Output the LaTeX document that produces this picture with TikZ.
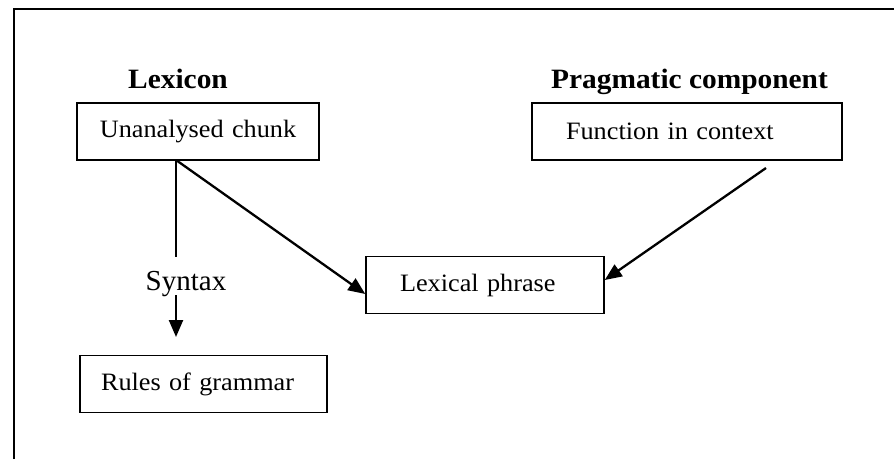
\documentclass[tikz,border=0pt]{standalone}
\usepackage{fontspec}
\setmainfont{Liberation Serif}
\newfontfamily\boxfont{Liberation Serif}[FakeStretch=1.05]
\usetikzlibrary{arrows.meta}

\begin{document}
\begin{tikzpicture}[x=1pt,y=-1pt,
  box node/.style={draw,line width=1.5pt,minimum height=57pt,align=left,font=\boxfont\fontsize{25}{30}\selectfont},
  head node/.style={anchor=base,inner sep=0pt,font=\boxfont\bfseries\fontsize{28}{33}\selectfont},
  arrow/.style={line width=2.3pt,-{Triangle[length=17pt,width=14pt]}}]

  \useasboundingbox (0,0) rectangle (894,459);
  \draw[line width=2.3pt] (14,459) |- (894,9);

  \node[head node] (5) at (178,88) {Lexicon};
  \node[head node] (6) at (689.5,88) {Pragmatic component};

  \node[box node,text width=202pt,inner xsep=20pt,align=center] (1) at (198,131.5) {Unanalysed chunk};
  \node[box node,text width=242pt,inner xsep=34pt] (2) at (687,131.5) {Function in context};
  \node[box node,text width=170pt,inner xsep=34pt] (3) at (485,285) {Lexical phrase};
  \node[box node,text width=205pt,inner xsep=21pt] (4) at (203.5,384) {Rules of grammar};

  \node[anchor=base,inner sep=0pt,font=\fontsize{29}{34}\selectfont] (7) at (186,290) {Syntax};

  \coordinate (a) at (176,160);
  \coordinate (b) at (176,257);
  \coordinate (c) at (176,295);
  \coordinate (d) at (176,337);
  \coordinate (e) at (766,168);

  \path
   (a) edge[line width=1.6pt] (b)
   (c) edge[arrow] (d)
   (a) edge[arrow] ([yshift=-9pt]3.west)
   (e) edge[arrow] ([yshift=5pt]3.east);
\end{tikzpicture}
\end{document}
